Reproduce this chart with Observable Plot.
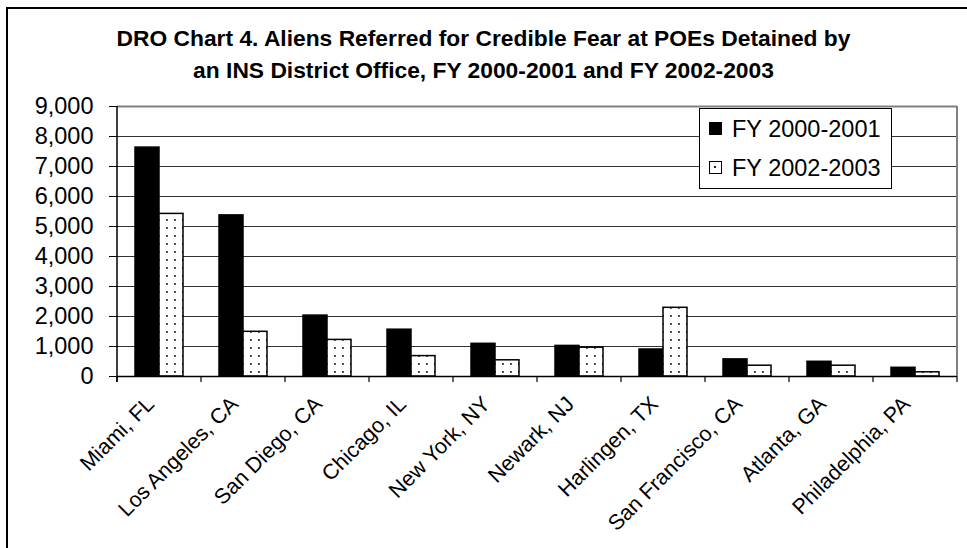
<!DOCTYPE html>
<html><head><meta charset="utf-8">
<script src="https://cdn.jsdelivr.net/npm/d3@7"></script>
<script src="https://cdn.jsdelivr.net/npm/@observablehq/plot@0.6"></script>
<style>
body{margin:0;background:#fff;font-family:"Liberation Sans",Arial,sans-serif;color:#000;}
#wrap{position:relative;width:967px;height:548px;overflow:hidden;background:#fff;}
#border{position:absolute;left:6px;top:7px;width:1000px;height:700px;border:2px solid #000;box-sizing:border-box;}
#title{position:absolute;left:0;top:22px;width:967px;text-align:center;font-weight:bold;font-size:22.8px;line-height:32px;}
#chart{position:absolute;left:0;top:0;}
#legend{position:absolute;left:699px;top:108px;width:193px;height:81px;border:1.5px solid #000;box-sizing:border-box;background:#fff;font-size:23.5px;line-height:40px;}
.row{display:flex;align-items:center;padding-left:9px;height:39px;}
.sw{width:13px;height:13px;box-sizing:border-box;margin-right:10px;flex:none;}
.sw.a{background:#000;}
.sw.b{background:#fff;border:1.5px solid #000;position:relative;}
.sw.b::after{content:"";position:absolute;left:4px;top:4px;width:2px;height:2px;background:#222;}
</style></head>
<body>
<div id="wrap">
  <div id="border"></div>
  <div id="chart"></div>
  <div id="title">DRO Chart 4. Aliens Referred for Credible Fear at POEs Detained by<br>an INS District Office, FY 2000-2001 and FY 2002-2003</div>
  <div id="legend"></div>
</div>
<script>
const cities = ["Miami, FL","Los Angeles, CA","San Diego, CA","Chicago, IL","New York, NY","Newark, NJ","Harlingen, TX","San Francisco, CA","Atlanta, GA","Philadelphia, PA"];
const series = ["FY 2000-2001","FY 2002-2003"];
const fy0001 = [7630,5370,2030,1560,1090,1020,900,570,490,290];
const fy0203 = [5420,1490,1220,680,540,960,2290,360,360,140];
const yTicks = [0,1000,2000,3000,4000,5000,6000,7000,8000,9000];

const data = cities.flatMap((c,i)=>[
  {city:c, series:series[0], value:fy0001[i]},
  {city:c, series:series[1], value:fy0203[i]}
]);

const plot = Plot.plot({
  width: 967, height: 548,
  marginLeft: 114, marginRight: 8, marginTop: 106, marginBottom: 172,
  style: {fontFamily: "'Liberation Sans', Arial, sans-serif", background: "transparent", color: "#000", overflow: "visible"},
  fx: {domain: cities, padding: 0, label: null},
  x: {domain: series, paddingInner: 0, paddingOuter: 0.72, axis: null},
  y: {domain: [0, 9000], label: null},
  color: {domain: series, range: ["#000", "url(#dots)"]},
  marks: [
    Plot.ruleY(yTicks.filter(d => d > 0 && d < 9000), {stroke: "#333", strokeWidth: 1}),
    Plot.ruleY([9000], {stroke: "#808080", strokeWidth: 2}),
    Plot.barY(data, {fx: "city", x: "series", y: "value", fill: "series", stroke: "#000", strokeWidth: 1.5}),
    Plot.ruleY([0], {stroke: "#000", strokeWidth: 1.5}),
    Plot.axisY({ticks: yTicks, tickFormat: d3.format(","), tickSize: 8, tickPadding: 16, fontSize: 23.5, label: null, stroke: "#000"}),
    Plot.axisFx({anchor: "bottom", tickRotate: -45, tickSize: 0, tickPadding: 24, dx: -9, fontSize: 21.5, label: null})
  ]
});

const svg = d3.select(plot);
const defs = svg.insert("defs", ":first-child");
const pat = defs.append("pattern").attr("id", "dots").attr("patternUnits", "userSpaceOnUse").attr("width", 8).attr("height", 8);
pat.append("rect").attr("width", 8).attr("height", 8).attr("fill", "#fff");
pat.append("rect").attr("x", 3).attr("y", 3).attr("width", 1.8).attr("height", 1.8).attr("fill", "#222");

const fx = plot.scale("fx");
const ys = plot.scale("y");
const y0 = ys.apply(0), y9 = ys.apply(9000);
const bounds = cities.map(c => fx.apply(c));
const last = fx.apply(cities[cities.length - 1]) + fx.bandwidth;
bounds.push(last);
const g = svg.append("g");
g.append("line").attr("x1", last).attr("x2", last).attr("y1", y9).attr("y2", y0).attr("stroke", "#808080").attr("stroke-width", 2);
g.append("line").attr("x1", bounds[0]).attr("x2", bounds[0]).attr("y1", y9).attr("y2", y0 + 6).attr("stroke", "#000").attr("stroke-width", 1.5);
bounds.forEach(b => g.append("line").attr("x1", b).attr("x2", b).attr("y1", y0).attr("y2", y0 + 6).attr("stroke", "#000").attr("stroke-width", 1.2));

document.getElementById("chart").appendChild(plot);

const leg = d3.select("#legend");
series.forEach((s, i) => {
  const r = leg.append("div").attr("class", "row");
  r.append("div").attr("class", "sw " + (i === 0 ? "a" : "b"));
  r.append("span").text(s);
});
</script>
</body></html>
